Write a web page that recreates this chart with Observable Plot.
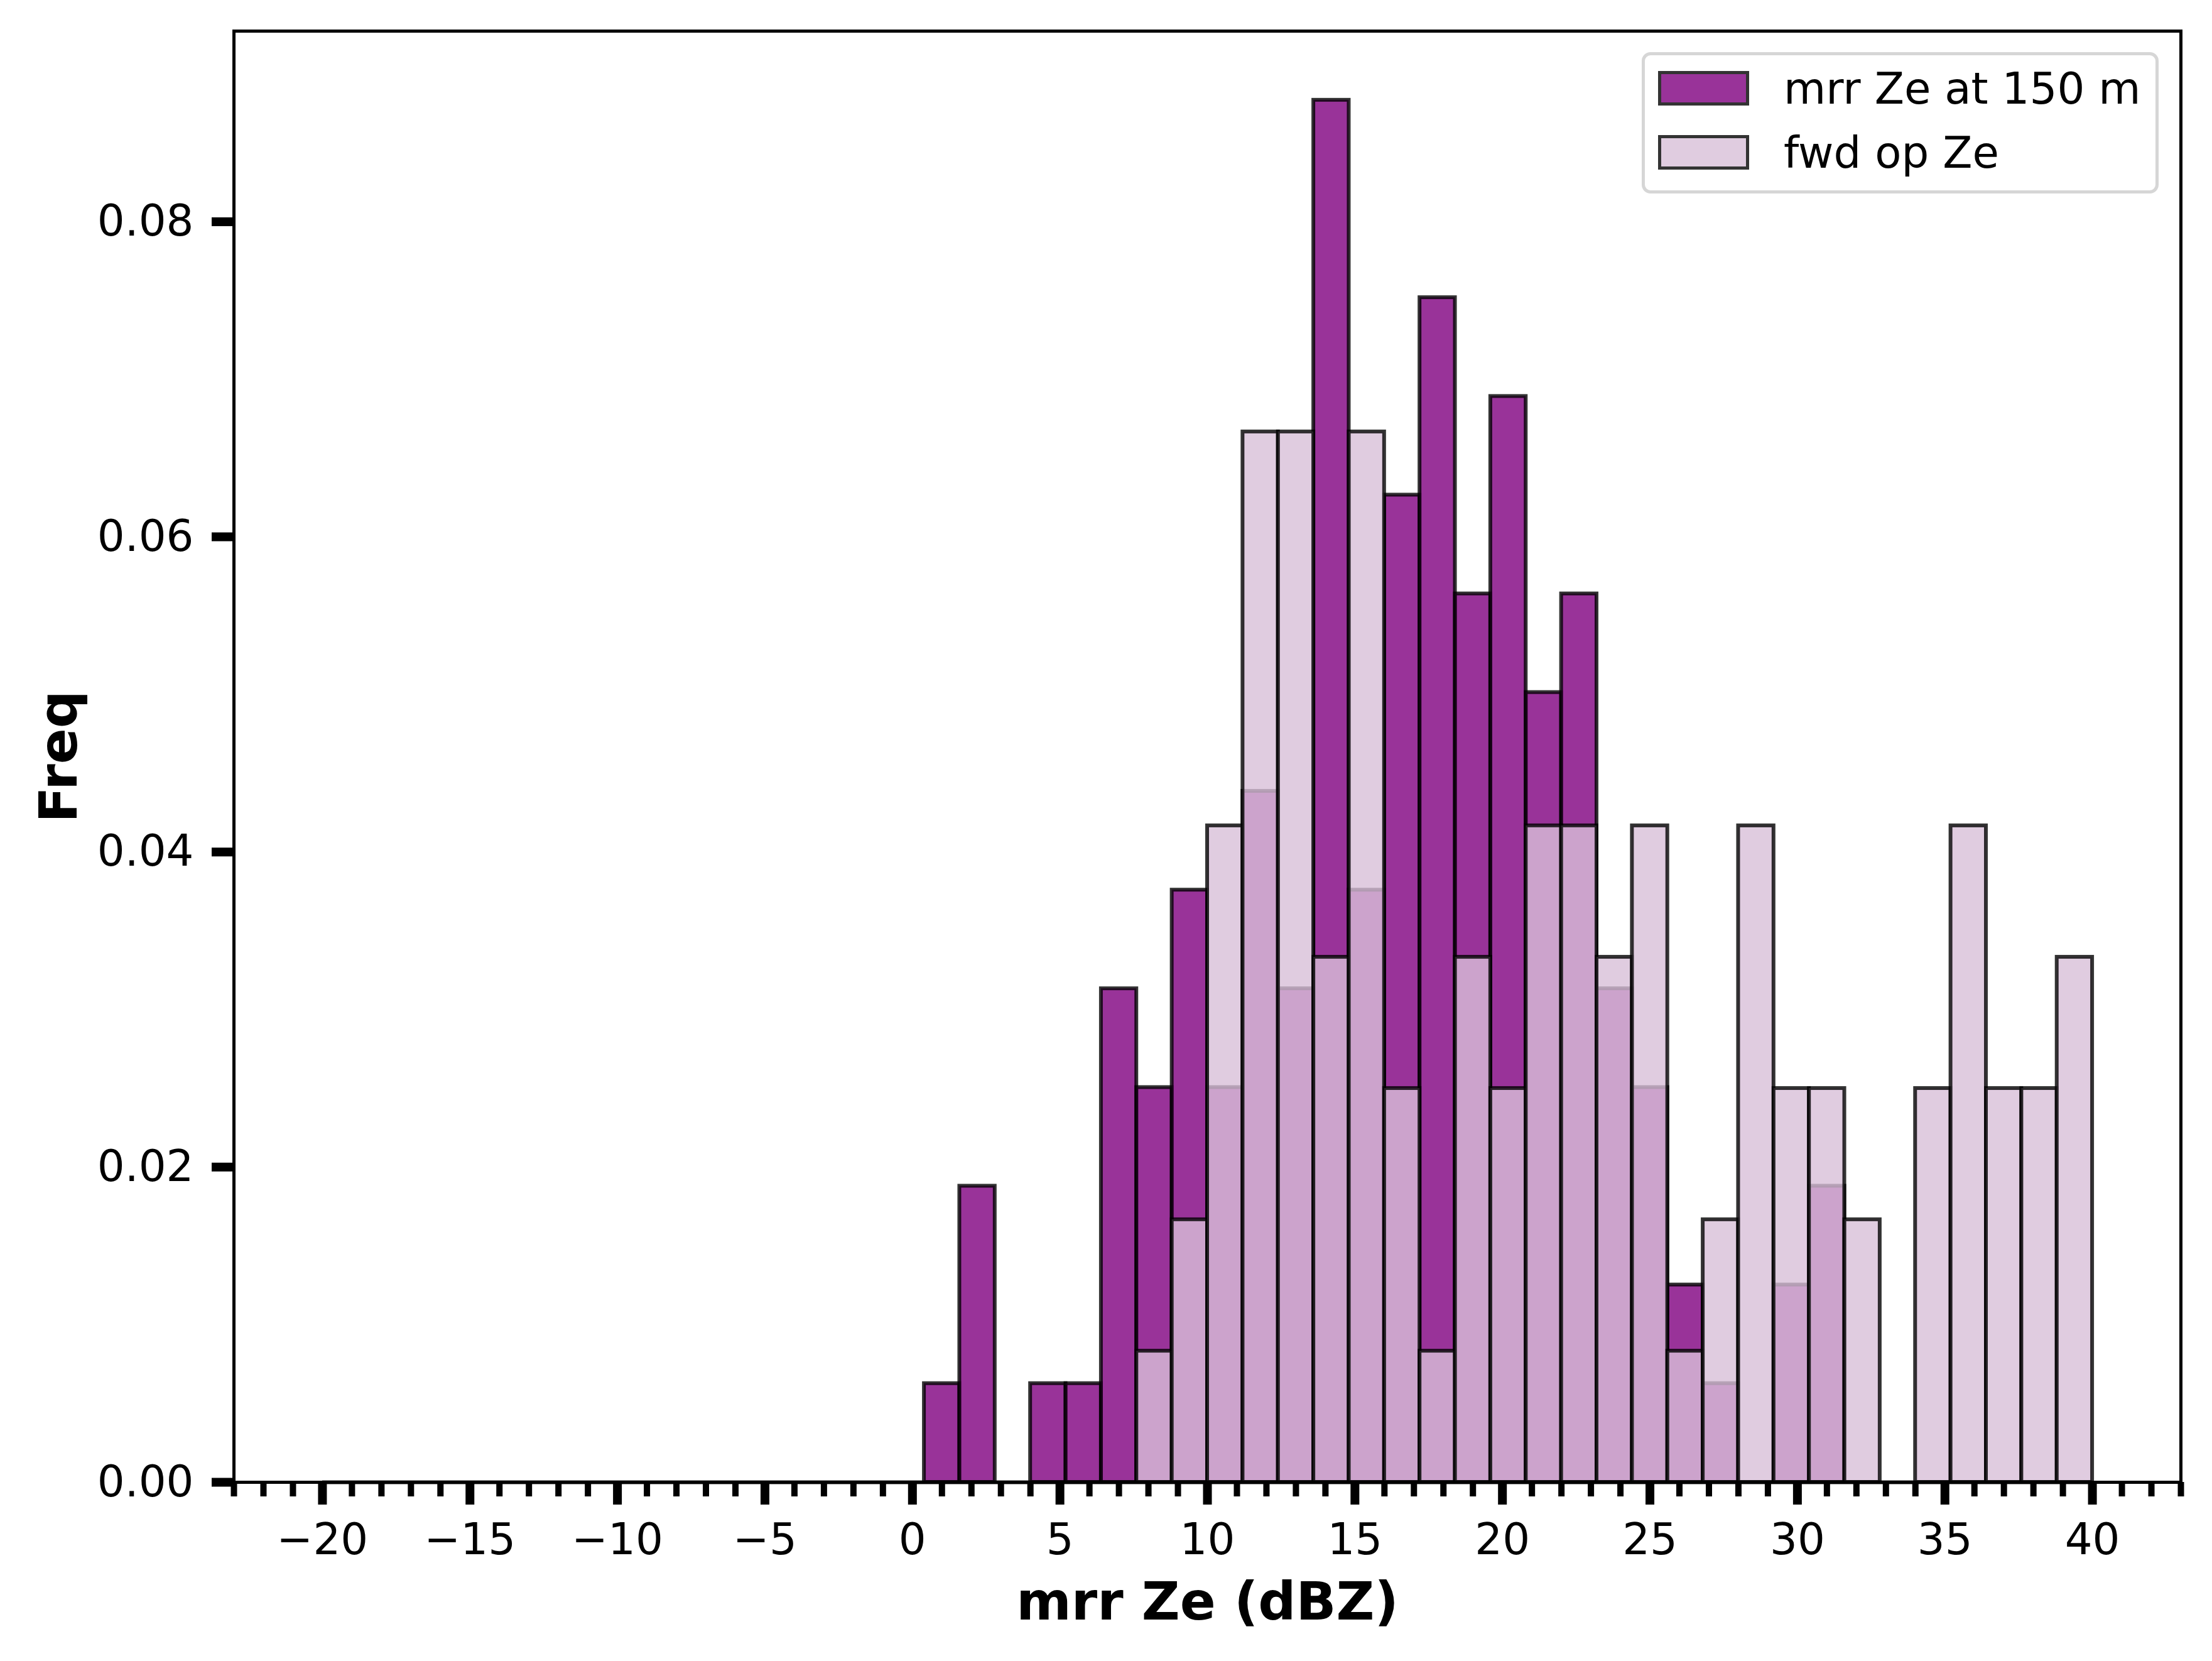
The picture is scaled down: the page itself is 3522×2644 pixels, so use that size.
<!DOCTYPE html>
<html>
<head>
<meta charset="utf-8">
<script src="https://cdn.jsdelivr.net/npm/d3@7"></script>
<script src="https://cdn.jsdelivr.net/npm/@observablehq/plot@0.6"></script>
<style>
  html, body { margin: 0; padding: 0; background: white; }
  #wrap { position: relative; width: 3522px; height: 2644px; font-family: "DejaVu Sans", sans-serif; }
  #legend { position: absolute; left: 2614px; top: 83px; width: 823px; height: 225px; box-sizing: border-box;
            border: 5px solid #d6d6d6; border-radius: 14px; background: white; }
  .patch { position: absolute; left: 21px; width: 145px; height: 55px; box-sizing: border-box; border: 5px solid #333; }
  .ltext { position: absolute; left: 221px; font-size: 69px; line-height: 69px; white-space: nowrap; color: black; }
</style>
</head>
<body>
<div id="wrap"><div id="legend"></div></div>
<script>
// ---- data ----
const binRange = [-20, 40];             // full histogram bin range
const binWidth = 1.2;                   // width of each bin (dBZ)
const binLeft = [0.4, 1.6, 2.8, 4.0, 5.2, 6.4, 7.6, 8.8, 10.0, 11.2, 12.4, 13.6, 14.8, 16.0, 17.2, 18.4, 19.6,
                 20.8, 22.0, 23.2, 24.4, 25.6, 26.8, 28.0, 29.2, 30.4, 31.6, 32.8, 34.0, 35.2, 36.4, 37.6, 38.8];
const mrrFreq = [0.00627, 0.01880, 0, 0.00627, 0.00627, 0.03133, 0.02506, 0.03759, 0.02506, 0.04386, 0.03133,
                 0.08772, 0.03759, 0.06266, 0.07519, 0.05639, 0.06892, 0.05013, 0.05639, 0.03133, 0.02506,
                 0.01253, 0.00627, 0, 0.01253, 0.01880, 0, 0, 0, 0, 0, 0, 0];
const fwdFreq = [0, 0, 0, 0, 0, 0, 0.00833, 0.01667, 0.04167, 0.06667, 0.06667, 0.03333, 0.06667, 0.02500,
                 0.00833, 0.03333, 0.02500, 0.04167, 0.04167, 0.03333, 0.04167, 0.00833, 0.01667, 0.04167,
                 0.02500, 0.02500, 0.01667, 0, 0.02500, 0.04167, 0.02500, 0.02500, 0.03333];
const seriesNames = ["mrr Ze at 150 m", "fwd op Ze"];
const seriesColors = ["purple", "thistle"];
const xMajorTicks = [-20, -15, -10, -5, 0, 5, 10, 15, 20, 25, 30, 35, 40];
const xMinorTicks = [-23, -22, -21, -19, -18, -17, -16, -14, -13, -12, -11, -9, -8, -7, -6, -4, -3, -2, -1,
                     1, 2, 3, 4, 6, 7, 8, 9, 11, 12, 13, 14, 16, 17, 18, 19, 21, 22, 23, 24, 26, 27, 28, 29,
                     31, 32, 33, 34, 36, 37, 38, 39, 41, 42, 43];
const yTicks = [0, 0.02, 0.04, 0.06, 0.08];
const xDomain = [-23, 43];
const yMax = 0.0921;
const xLabel = "mrr Ze (dBZ)";
const yLabel = "Freq";

const mrrRows = binLeft.map((b, i) => ({x1: b, x2: b + binWidth, v: mrrFreq[i]})).filter(d => d.v > 0);
const fwdRows = binLeft.map((b, i) => ({x1: b, x2: b + binWidth, v: fwdFreq[i]})).filter(d => d.v > 0);

const barStyle = {stroke: "black", strokeOpacity: 0.8, strokeWidth: 6, fillOpacity: 0.8};

const chart = Plot.plot({
  width: 3522,
  height: 2644,
  marginLeft: 372,
  marginRight: 50,
  marginTop: 49,
  marginBottom: 285,
  style: {fontFamily: "DejaVu Sans", background: "white", color: "black"},
  x: {domain: xDomain, label: null},
  y: {domain: [0, yMax], label: null},
  marks: [
    Plot.rect(mrrRows, {x1: "x1", x2: "x2", y1: 0, y2: "v", fill: seriesColors[0], ...barStyle}),
    Plot.rect(fwdRows, {x1: "x1", x2: "x2", y1: 0, y2: "v", fill: seriesColors[1], ...barStyle}),
    Plot.ruleY([0], {x1: binRange[0], x2: binRange[1], stroke: "black", strokeOpacity: 0.8, strokeWidth: 6}),
    Plot.frame({stroke: "black", strokeWidth: 5}),
    Plot.axisX({ticks: xMajorTicks, tickSize: 36, tickPadding: 29, strokeWidth: 14, fontSize: 69,
                tickFormat: d3.format("d"), label: null}),
    Plot.axisX({ticks: xMinorTicks, tickSize: 23, strokeWidth: 10, tickFormat: () => "", label: null}),
    Plot.axisY({ticks: yTicks, tickSize: 35, tickPadding: 29, strokeWidth: 14, fontSize: 69,
                tickFormat: d3.format(".2f"), label: null}),
    Plot.text([xLabel], {text: d => d, frameAnchor: "bottom", lineAnchor: "middle", textAnchor: "middle",
                         dy: 192, fontSize: 84, fontWeight: "bold", fill: "black"}),
    Plot.text([yLabel], {text: d => d, frameAnchor: "left", lineAnchor: "middle", textAnchor: "middle",
                         dx: -277, rotate: -90, fontSize: 84, fontWeight: "bold", fill: "black"})
  ]
});
document.getElementById("wrap").prepend(chart);

// legend
const legend = document.getElementById("legend");
const fills = ["rgba(128,0,128,0.8)", "rgba(216,191,216,0.8)"];
seriesNames.forEach((name, i) => {
  const p = document.createElement("div");
  p.className = "patch";
  p.style.top = (25 + i * 102) + "px";
  p.style.background = fills[i];
  legend.appendChild(p);
  const t = document.createElement("div");
  t.className = "ltext";
  t.style.top = (19 + i * 102) + "px";
  t.textContent = name;
  legend.appendChild(t);
});
</script>
</body>
</html>
